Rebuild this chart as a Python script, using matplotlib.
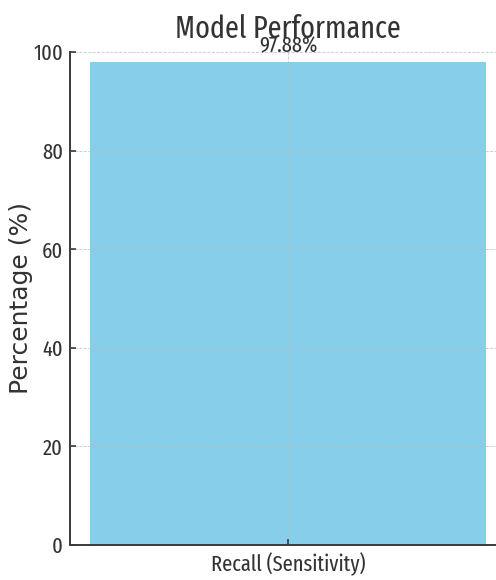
import matplotlib
matplotlib.use("Agg")
import matplotlib.pyplot as plt

# data
metrics = ["Recall (Sensitivity)"]
values = [97.88]
y_ticks = [0, 20, 40, 60, 80, 100]

narrow = "Fira Sans Extra Condensed"
text_color = "#333333"

fig = plt.figure(figsize=(4.96, 5.8), dpi=100)
# the reference is cut on the right, so the axes run past the figure edge
ax = fig.add_axes([70 / 496, 35 / 580, 436 / 496, 493 / 580])

bars = ax.bar(metrics, values, color="#87CEEB", width=0.8)
for b, v in zip(bars, values):
    ax.text(b.get_x() + b.get_width() / 2, v + 2, "%.2f%%" % v,
            ha="center", va="baseline", fontsize=16, color=text_color, family=narrow)

ax.set_ylim(0, 100)
ax.set_yticks(y_ticks)
ax.set_title("Model Performance", fontsize=22, color=text_color, pad=10, family=narrow)
ax.set_ylabel("Percentage (%)", fontsize=18, color=text_color, family="DejaVu Sans")
ax.yaxis.set_label_coords(-0.085, 0.5)

ax.grid(True, color="#bbbbbb", linestyle="--", linewidth=0.6, alpha=0.8)
ax.set_axisbelow(False)

for side in ["top", "right"]:
    ax.spines[side].set_visible(False)
for side in ["left", "bottom"]:
    ax.spines[side].set_color("#3a3a3a")
    ax.spines[side].set_linewidth(1.4)

ax.tick_params(direction="in", length=4, width=1.2, color="#3a3a3a", labelcolor=text_color, labelsize=16)
ax.tick_params(axis="y", pad=5)
ax.tick_params(axis="x", pad=5)
for lbl in ax.get_xticklabels() + ax.get_yticklabels():
    lbl.set_fontfamily(narrow)

fig.savefig("out.png", dpi=100)
